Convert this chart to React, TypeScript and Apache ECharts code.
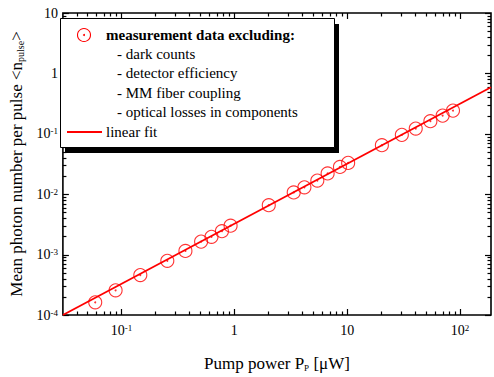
import React, { useEffect, useRef } from 'react';
import * as echarts from 'echarts';

const pumpPower = [0.0586, 0.0888, 0.147, 0.255, 0.369, 0.508, 0.628, 0.777, 0.927, 2.02, 3.36, 4.18, 5.44, 6.71, 8.63, 10.2, 20.3, 30.5, 40.5, 54.6, 70.1, 86.6];
const photonNumber = [1.62e-4, 2.56e-4, 4.58e-4, 7.9e-4, 1.15e-3, 1.64e-3, 1.97e-3, 2.44e-3, 3.01e-3, 6.57e-3, 1.07e-2, 1.3e-2, 1.68e-2, 2.21e-2, 2.83e-2, 3.3e-2, 6.47e-2, 9.6e-2, 0.122, 0.162, 0.2, 0.242];
const fitX = [0.0303, 188];
const fitY = [1.0e-4, 0.588];
const xDecades = [0.01, 0.1, 1, 10, 100];
const yDecades = [1e-4, 1e-3, 1e-2, 1e-1, 1, 10];
const minorSteps = [2, 3, 4, 5, 6, 7, 8, 9];
const legendTitle = 'measurement data excluding:';
const legendItems = ['- dark counts', '- detector efficiency', '- MM fiber coupling', '- optical losses in components'];
const fitLabel = 'linear fit';

const X_MIN = 0.0303;
const X_MAX = 188;
const Y_MIN = 1e-4;
const Y_MAX = 10;

const FONT = "'Liberation Serif', serif";
const RED = '#ff0000';

function buildTicks(decades: number[], lo: number, hi: number) {
  const out: number[][] = [];
  for (const d of decades) {
    if (d >= lo * 0.999 && d <= hi * 1.001) out.push([d, 6]);
    for (const m of minorSteps) {
      const v = d * m;
      if (v > lo && v < hi) out.push([v, 3.5]);
    }
  }
  return out;
}

const fmt = (v: number) => {
  const e = Math.log10(v);
  const r = Math.round(e);
  if (Math.abs(e - r) > 1e-6) return '';
  if (r === 0) return '1';
  if (r === 1) return '10';
  return `10{sup|${r}}`;
};

export default function App() {
  const ref = useRef<HTMLDivElement>(null);
  useEffect(() => {
    if (!ref.current) return;
    const chart = echarts.init(ref.current, null, { renderer: 'svg' });
    const xTicks = buildTicks(xDecades, X_MIN, X_MAX).map(([v, l]) => [v, 1, l]);
    const yTicks = buildTicks(yDecades, Y_MIN, Y_MAX).map(([v, l]) => [1, v, l]);
    const tickStyle = { stroke: '#000', lineWidth: 1.2 };
    const labelStyle = {
      color: '#000',
      fontFamily: FONT,
      fontSize: 14,
      formatter: fmt,
      rich: { sup: { fontSize: 9, fontFamily: FONT, color: '#000', verticalAlign: 'top' as const } },
    };
    const lx = 60, ly = 18, lw = 274, lh = 129;
    const rowY = [54, 73, 93, 112];
    const points = pumpPower.map((x, i) => [x, photonNumber[i]]);
    chart.setOption({
      animation: false,
      textStyle: { fontFamily: FONT },
      grid: { left: 54.5, top: 13, right: -2, bottom: 55, show: true, borderColor: '#000', borderWidth: 1.6, backgroundColor: 'transparent' },
      xAxis: {
        type: 'log',
        logBase: 10,
        min: X_MIN,
        max: X_MAX,
        splitNumber: 5,
        axisLine: { show: false },
        axisTick: { show: false },
        splitLine: { show: false },
        axisLabel: { ...labelStyle, margin: 8 },
        name: 'Pump power P{sub|P} [\u03bcW]',
        nameLocation: 'middle',
        nameGap: 40,
        nameTextStyle: {
          fontFamily: FONT, fontSize: 17, color: '#000',
          rich: { sub: { fontFamily: FONT, fontSize: 9, color: '#000', verticalAlign: 'bottom', padding: [8, 0, 0, 0] } },
        },
      },
      yAxis: {
        type: 'log',
        logBase: 10,
        min: Y_MIN,
        max: Y_MAX,
        splitNumber: 5,
        axisLine: { show: false },
        axisTick: { show: false },
        splitLine: { show: false },
        axisLabel: { ...labelStyle, margin: 5 },
        name: 'Mean photon number per pulse <n{sub|pulse}>',
        nameLocation: 'middle',
        nameGap: 36,
        nameTextStyle: {
          fontFamily: FONT, fontSize: 17, color: '#000',
          rich: { sub: { fontFamily: FONT, fontSize: 10, color: '#000', verticalAlign: 'bottom', padding: [8, 0, 0, 0] } },
        },
      },
      series: [
        {
          type: 'custom',
          silent: true,
          data: xTicks,
          renderItem: (params: any, api: any) => {
            const cs = params.coordSys;
            const p = api.coord([api.value(0), api.value(1)]);
            const len = api.value(2);
            const x = Math.round(p[0]) + 0.5;
            return {
              type: 'group',
              children: [
                { type: 'line', shape: { x1: x, y1: cs.y + cs.height, x2: x, y2: cs.y + cs.height - len }, style: tickStyle },
                { type: 'line', shape: { x1: x, y1: cs.y, x2: x, y2: cs.y + len }, style: tickStyle },
              ],
            };
          },
        },
        {
          type: 'custom',
          silent: true,
          data: yTicks,
          renderItem: (params: any, api: any) => {
            const cs = params.coordSys;
            const p = api.coord([api.value(0), api.value(1)]);
            const len = api.value(2);
            const y = Math.round(p[1]) + 0.5;
            return {
              type: 'group',
              children: [
                { type: 'line', shape: { x1: cs.x, y1: y, x2: cs.x + len, y2: y }, style: tickStyle },
                { type: 'line', shape: { x1: cs.x + cs.width, y1: y, x2: cs.x + cs.width - len, y2: y }, style: tickStyle },
              ],
            };
          },
        },
        {
          type: 'line',
          silent: true,
          data: fitX.map((x, i) => [x, fitY[i]]),
          showSymbol: false,
          symbol: 'none',
          lineStyle: { color: RED, width: 1.8 },
          z: 3,
        },
        {
          type: 'scatter',
          silent: true,
          data: points,
          symbol: 'circle',
          symbolSize: 13,
          itemStyle: { color: 'rgba(0,0,0,0)', borderColor: RED, borderWidth: 1.1 },
          z: 4,
        },
        {
          type: 'scatter',
          silent: true,
          data: points,
          symbol: 'circle',
          symbolSize: 2,
          itemStyle: { color: RED },
          z: 4,
        },
      ],
      graphic: [
        { type: 'rect', z: 100, shape: { x: lx + 5, y: ly + 6, width: lw, height: lh }, style: { fill: '#000' } },
        { type: 'rect', z: 101, shape: { x: lx + 0.5, y: ly + 0.5, width: lw, height: lh }, style: { fill: '#fff', stroke: '#000', lineWidth: 1 } },
        { type: 'circle', z: 102, shape: { cx: 84, cy: 35, r: 6.5 }, style: { fill: 'none', stroke: RED, lineWidth: 1.1 } },
        { type: 'circle', z: 102, shape: { cx: 84, cy: 35, r: 1 }, style: { fill: RED } },
        { type: 'text', z: 102, x: 106, y: 35, style: { text: legendTitle, fontFamily: FONT, fontSize: 15, fontWeight: 'bold', fill: '#000', verticalAlign: 'middle' } },
        ...legendItems.map((t, i) => ({
          type: 'text', z: 102, x: 117, y: rowY[i],
          style: { text: t, fontFamily: FONT, fontSize: 15, fill: '#000', verticalAlign: 'middle' },
        })),
        { type: 'line', z: 102, shape: { x1: 67, y1: 132, x2: 102, y2: 132 }, style: { stroke: RED, lineWidth: 1.8 } },
        { type: 'text', z: 102, x: 106, y: 132, style: { text: fitLabel, fontFamily: FONT, fontSize: 15, fill: '#000', verticalAlign: 'middle' } },
      ],
    });
    return () => chart.dispose();
  }, []);
  return <div ref={ref} style={{ position: 'fixed', left: 0, top: 0, width: 494, height: 377, background: '#fff' }} />;
}
